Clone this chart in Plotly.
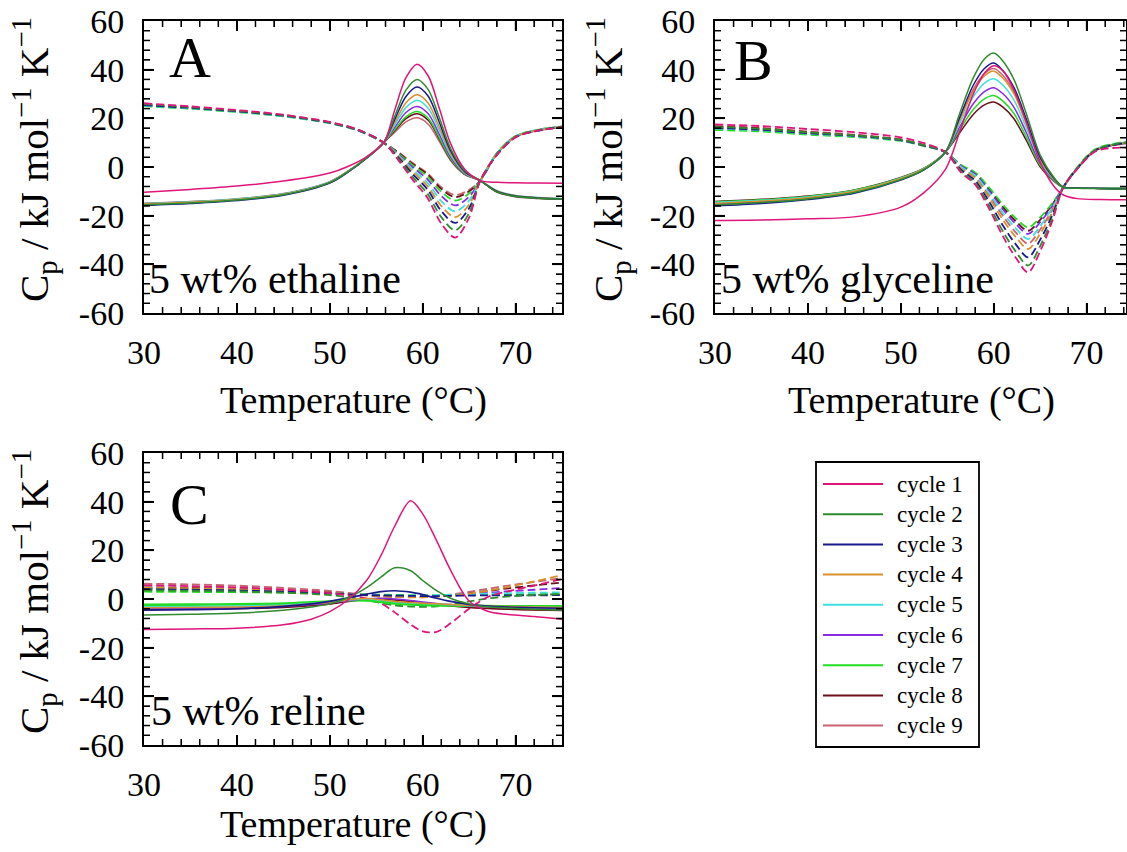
import plotly.graph_objects as go

# ---------------------------------------------------------------- data
cycle_names = ["cycle 1", "cycle 2", "cycle 3", "cycle 4", "cycle 5",
               "cycle 6", "cycle 7", "cycle 8", "cycle 9"]
cycle_colors = ["#e0157a", "#2e8b2e", "#1a1a8c", "#d8902a", "#40dede",
                "#8a2be2", "#22dd22", "#6b0f1a", "#c86470"]

y_tick_vals = [-60, -40, -20, 0, 20, 40, 60]
y_tick_text = ["-60", "-40", "-20", "0", "20", "40", "60"]
x_tick_vals = [30, 40, 50, 60, 70]
x_tick_text = ["30", "40", "50", "60", "70"]

# A: 5 wt% ethaline -- heating (solid) and cooling (dashed) scans
temp_a_heat = [30, 35, 40, 45, 50, 52, 54, 55.8, 57, 58.2, 59.4, 60.6, 61.8, 63, 64.5, 66.2, 68, 70, 72.5, 75]
cp_a_heat = [
    [-10.4, -9.2, -7.8, -5.8, -2.5, 0.3, 4.3, 10.0, 23.5, 36.7, 42.2, 37.4, 24.0, 9.7, -0.8, -5.6, -6.3, -6.5, -6.6, -6.7],
    [-15.5, -14.8, -13.6, -11.4, -6.4, -1.9, 3.8, 10.0, 20.9, 31.6, 36.0, 31.8, 20.2, 7.7, -1.4, -5.6, -10.2, -12.0, -12.8, -13.2],
    [-15.8, -15.0, -13.8, -11.6, -6.6, -2.0, 3.7, 10.0, 19.6, 29.0, 32.9, 29.1, 18.3, 6.7, -1.8, -5.6, -10.0, -11.9, -12.7, -13.1],
    [-15.2, -14.5, -13.4, -11.2, -6.3, -1.8, 3.8, 10.0, 18.3, 26.4, 29.7, 26.2, 16.3, 5.7, -2.1, -5.6, -9.8, -11.8, -12.6, -13.0],
    [-15.0, -14.3, -13.2, -11.0, -6.1, -1.7, 3.9, 10.0, 17.3, 24.4, 27.4, 24.1, 14.9, 5.0, -2.3, -5.6, -9.7, -11.7, -12.5, -12.9],
    [-15.4, -14.7, -13.5, -11.3, -6.4, -1.9, 3.8, 10.0, 16.3, 22.4, 24.9, 21.9, 13.3, 4.2, -2.6, -5.6, -9.9, -11.9, -12.7, -13.1],
    [-15.3, -14.6, -13.4, -11.2, -6.3, -1.8, 3.9, 10.0, 15.4, 20.6, 22.8, 20.0, 12.0, 3.5, -2.8, -5.6, -10.1, -12.0, -12.8, -13.2],
    [-15.1, -14.4, -13.3, -11.1, -6.2, -1.7, 3.9, 10.0, 15.0, 19.9, 21.9, 19.2, 11.5, 3.2, -2.9, -5.6, -10.3, -12.2, -12.9, -13.3],
    [-14.9, -14.2, -13.1, -10.9, -6.0, -1.6, 4.0, 10.0, 14.3, 18.5, 20.2, 17.6, 10.4, 2.7, -3.0, -5.6, -10.0, -11.8, -12.6, -13.0],
]
temp_a_cool = [30, 35, 40, 45, 50, 53, 55.8, 57.5, 59, 60.5, 62, 63.5, 65, 66.2, 68, 70, 72.5, 75]
cp_a_cool = [
    [26.2, 24.9, 23.4, 21.5, 18.5, 15.4, 10.0, 2.2, -5.6, -12.6, -23.2, -29.0, -20.8, -5.6, 5.0, 12.2, 15.0, 16.3],
    [25.8, 24.6, 23.1, 21.3, 18.3, 15.3, 10.0, 2.8, -4.4, -10.9, -20.6, -26.0, -18.9, -5.6, 5.3, 12.4, 15.1, 16.4],
    [25.4, 24.3, 22.9, 21.1, 18.2, 15.2, 10.0, 3.4, -3.2, -9.1, -18.1, -23.0, -16.9, -5.6, 5.0, 12.2, 15.0, 16.5],
    [25.6, 24.4, 23.0, 21.2, 18.3, 15.3, 10.0, 3.9, -2.2, -7.7, -16.0, -20.6, -15.4, -5.6, 5.4, 12.5, 15.2, 16.6],
    [25.2, 24.1, 22.7, 20.9, 18.1, 15.1, 10.0, 4.4, -1.3, -6.4, -14.0, -18.2, -13.8, -5.6, 5.6, 12.6, 15.3, 16.6],
    [25.5, 24.3, 22.9, 21.1, 18.2, 15.2, 10.0, 4.8, -0.3, -5.0, -11.9, -15.8, -12.2, -5.6, 5.5, 12.5, 15.2, 16.5],
    [25.0, 23.9, 22.6, 20.8, 18.0, 15.0, 10.0, 5.2, 0.5, -3.8, -10.2, -13.8, -10.9, -5.6, 5.8, 12.7, 15.4, 16.7],
    [25.3, 24.2, 22.8, 21.0, 18.1, 15.1, 10.0, 5.5, 1.0, -3.0, -9.0, -12.4, -10.0, -5.6, 5.6, 12.6, 15.3, 16.6],
    [25.7, 24.5, 23.0, 21.2, 18.3, 15.3, 10.0, 5.7, 1.4, -2.5, -8.3, -11.5, -9.4, -5.6, 5.4, 12.4, 15.1, 16.4],
]

# B: 5 wt% glyceline
temp_b_heat = [30, 35, 40, 45, 50, 52.5, 54.8, 56.3, 57.8, 59, 60, 61, 62.2, 63.5, 65, 66.5, 67.5, 69, 71.5, 74.3]
cp_b_heat = [
    [-22.0, -21.8, -21.3, -20.5, -16.5, -10.5, -1.0, 14.0, 30.0, 38.5, 41.6, 39.5, 31.5, 18.5, 2.0, -8.0, -11.5, -13.0, -13.4, -13.5],
    [-15.6, -14.6, -13.1, -10.5, -5.2, -1.1, 6.1, 21.6, 36.6, 44.4, 46.8, 43.5, 35.8, 22.0, 4.9, -4.4, -8.3, -8.7, -8.9, -9.1],
    [-16.0, -15.0, -13.4, -10.8, -5.4, -1.2, 6.1, 20.0, 33.6, 40.5, 42.7, 39.6, 32.5, 19.8, 3.9, -4.7, -8.3, -8.6, -8.8, -9.0],
    [-15.0, -14.0, -12.6, -10.0, -4.8, -0.8, 6.1, 18.8, 31.1, 37.4, 39.4, 36.5, 29.9, 17.9, 3.1, -5.0, -8.3, -8.6, -8.8, -9.0],
    [-14.6, -13.7, -12.3, -9.8, -4.6, -0.7, 6.1, 17.6, 28.8, 34.5, 36.3, 33.6, 27.4, 16.2, 2.4, -5.2, -8.3, -8.5, -8.7, -8.9],
    [-15.2, -14.2, -12.8, -10.2, -4.9, -0.9, 6.1, 16.2, 26.0, 31.0, 32.6, 30.1, 24.4, 14.2, 1.5, -5.4, -8.3, -8.6, -8.8, -9.0],
    [-14.4, -13.5, -12.1, -9.6, -4.5, -0.6, 6.1, 15.0, 23.6, 28.0, 29.4, 27.1, 21.9, 12.4, 0.7, -5.7, -8.3, -8.5, -8.7, -8.8],
    [-14.2, -13.3, -11.9, -9.4, -4.3, -0.5, 6.1, 13.9, 21.6, 25.5, 26.7, 24.6, 19.7, 11.0, 0.1, -5.9, -8.3, -8.5, -8.6, -8.7],
    [-15.3, -14.3, -12.9, -10.3, -5.0, -1.0, 6.1, 19.2, 31.9, 38.4, 40.5, 37.6, 30.7, 18.5, 3.4, -4.9, -8.3, -8.6, -8.8, -9.0],
]
temp_b_cool = [30, 35, 40, 45, 50, 52.5, 54.8, 56.5, 58, 59.5, 61, 62.4, 63.7, 65, 66.3, 67.5, 69, 71, 74.3]
cp_b_cool = [
    [17.5, 16.8, 15.6, 14.3, 12.2, 9.8, 6.1, -2.3, -7.2, -17.1, -28.5, -37.4, -43.3, -34.6, -22.3, -8.3, -0.8, 6.5, 8.0],
    [16.4, 15.7, 14.2, 13.0, 11.2, 8.9, 6.1, -1.8, -6.5, -15.8, -26.5, -34.9, -40.5, -32.5, -21.2, -8.3, -0.4, 7.1, 10.1],
    [16.0, 15.3, 13.9, 12.8, 11.0, 8.8, 6.1, -1.2, -5.6, -14.2, -24.1, -31.9, -37.1, -29.9, -19.8, -8.3, -0.5, 7.0, 10.0],
    [16.2, 15.5, 14.0, 12.9, 11.1, 8.8, 6.1, -0.7, -4.6, -12.6, -21.8, -28.9, -33.7, -27.4, -18.5, -8.3, -0.4, 7.1, 10.1],
    [15.8, 15.1, 13.7, 12.6, 10.9, 8.7, 6.1, 0.0, -3.5, -10.7, -18.9, -25.3, -29.6, -24.3, -16.8, -8.3, -0.3, 7.2, 10.2],
    [16.1, 15.4, 13.9, 12.8, 11.0, 8.8, 6.1, 0.4, -3.0, -9.7, -17.4, -23.5, -27.5, -22.7, -16.0, -8.3, -0.5, 7.0, 10.0],
    [15.2, 14.6, 13.3, 12.3, 10.7, 8.6, 6.1, 0.8, -2.2, -8.4, -15.5, -21.1, -24.8, -20.7, -14.9, -8.3, 0.0, 7.5, 10.4],
    [16.6, 15.8, 14.3, 13.1, 11.2, 8.9, 6.1, 0.6, -2.6, -9.1, -16.5, -22.3, -26.2, -21.7, -15.5, -8.3, -0.6, 6.9, 9.9],
    [16.9, 16.1, 14.6, 13.3, 11.4, 9.0, 6.1, -0.3, -4.1, -11.6, -20.2, -27.0, -31.5, -25.7, -17.6, -8.3, -0.7, 6.8, 9.6],
]

# C: 5 wt% reline
temp_c = [30, 35, 40, 45, 48, 50, 52, 54, 55.5, 57, 58.7, 60, 61.5, 63, 65, 67, 69, 72, 75]
cp_c_heat = [
    [-12.5, -12.3, -12.0, -10.6, -8.3, -5.2, -0.2, 7.8, 17.8, 30.0, 40.4, 35.0, 24.0, 11.9, -0.8, -5.0, -6.3, -7.2, -8.3],
    [-6.6, -6.3, -5.8, -4.6, -3.3, -2.0, 0.6, 4.8, 9.0, 12.8, 11.6, 7.6, 3.4, 0.3, -2.0, -3.2, -3.7, -4.2, -4.6],
    [-4.6, -4.4, -4.0, -3.0, -2.0, -1.0, 0.5, 2.0, 3.0, 3.4, 2.8, 1.8, 0.3, -1.0, -2.2, -2.9, -3.3, -3.6, -3.8],
    [-3.6, -3.5, -3.3, -2.8, -2.0, -1.3, -0.3, 0.2, -0.3, -1.0, -1.4, -1.7, -2.0, -2.3, -2.6, -2.9, -3.1, -3.3, -3.5],
    [-3.2, -3.1, -2.9, -2.5, -1.8, -1.2, -0.4, 0.0, -0.5, -1.2, -1.6, -1.8, -2.1, -2.4, -2.7, -3.0, -3.2, -3.4, -3.6],
    [-3.9, -3.8, -3.6, -3.0, -2.3, -1.6, -0.6, 0.1, 0.3, 0.0, -0.6, -1.2, -1.8, -2.3, -2.8, -3.2, -3.4, -3.7, -3.9],
    [-2.4, -2.3, -2.2, -1.9, -1.4, -1.0, -0.5, -0.6, -1.2, -1.8, -2.2, -2.4, -2.6, -2.7, -2.8, -2.9, -3.0, -3.0, -3.0],
    [-4.3, -4.2, -4.0, -3.5, -2.8, -2.1, -1.0, -0.2, 0.0, -0.4, -1.0, -1.6, -2.3, -2.9, -3.5, -3.9, -4.2, -4.5, -4.7],
    [-4.0, -3.9, -3.7, -3.2, -2.5, -1.8, -0.8, 0.0, 0.2, -0.2, -0.9, -1.5, -2.2, -2.8, -3.4, -3.8, -4.1, -4.4, -4.6],
]
cp_c_cool = [
    [5.7, 5.3, 4.8, 3.9, 3.1, 2.4, 1.5, 0.2, -1.8, -5.5, -10.5, -13.3, -13.5, -10.0, -4.0, 0.8, 3.0, 5.5, 8.2],
    [3.6, 3.4, 3.1, 2.6, 2.1, 1.6, 0.8, -0.5, -1.6, -2.6, -3.1, -3.2, -3.0, -2.3, -1.0, 0.2, 1.0, 1.6, 2.0],
    [4.0, 3.8, 3.5, 3.0, 2.6, 2.3, 1.9, 1.6, 1.5, 1.4, 1.3, 1.2, 1.2, 1.3, 1.4, 1.5, 1.5, 1.5, 1.6],
    [4.6, 4.4, 4.1, 3.5, 3.0, 2.6, 2.0, 1.4, 1.0, 0.8, 0.7, 0.7, 0.9, 1.3, 2.2, 3.4, 4.8, 7.2, 9.8],
    [4.2, 4.0, 3.7, 3.2, 2.8, 2.4, 2.0, 1.7, 1.5, 1.4, 1.4, 1.5, 1.6, 1.8, 2.0, 2.2, 2.4, 2.6, 2.7],
    [4.4, 4.2, 3.9, 3.4, 2.9, 2.5, 2.0, 1.6, 1.3, 1.1, 1.0, 1.0, 1.1, 1.4, 1.9, 2.5, 3.1, 3.8, 4.5],
    [3.0, 2.9, 2.8, 2.6, 2.4, 2.3, 2.1, 1.9, 1.8, 1.7, 1.6, 1.6, 1.6, 1.6, 1.7, 1.8, 1.9, 2.0, 2.1],
    [4.8, 4.6, 4.2, 3.6, 3.1, 2.7, 2.1, 1.6, 1.2, 1.0, 0.9, 0.9, 1.1, 1.5, 2.3, 3.3, 4.3, 5.6, 6.8],
    [6.3, 6.0, 5.5, 4.6, 3.9, 3.3, 2.5, 1.7, 1.2, 0.9, 0.8, 0.9, 1.2, 1.8, 2.9, 4.2, 5.4, 7.0, 8.6],
]

# ---------------------------------------------------------------- figure
W, H = 1127, 852
SERIF = "Liberation Serif"


def px(x):
    return x / W


def py(y):
    return 1 - y / H


fig = go.Figure()

panels = [
    ("x", "y", temp_a_heat, cp_a_heat, temp_a_cool, cp_a_cool, [1.5] * 9),
    ("x2", "y2", temp_b_heat, cp_b_heat, temp_b_cool, cp_b_cool, [1.5] * 9),
    ("x3", "y3", temp_c, cp_c_heat, temp_c, cp_c_cool,
     [1.5, 1.5, 1.7, 1.5, 1.5, 1.5, 2.6, 1.5, 1.5]),
]

for xa, ya, th, heat, tc, cool, widths in panels:
    order = list(range(8, -1, -1))
    for i in order:
        fig.add_trace(go.Scatter(
            x=tc, y=cool[i], xaxis=xa, yaxis=ya, mode="lines",
            line=dict(color=cycle_colors[i], width=1.8, dash="8px,4px",
                      shape="spline", smoothing=0.9),
            name=cycle_names[i], showlegend=False, hoverinfo="skip"))
    for i in order:
        fig.add_trace(go.Scatter(
            x=th, y=heat[i], xaxis=xa, yaxis=ya, mode="lines",
            line=dict(color=cycle_colors[i], width=widths[i],
                      shape="spline", smoothing=0.9),
            name=cycle_names[i], showlegend=False, hoverinfo="skip"))


def frame_axis(rng, domain, anchor, major_vals, major_text, minor_dtick, standoff):
    return dict(
        range=rng, domain=domain, anchor=anchor, automargin=False,
        showline=True, linecolor="black", linewidth=2, mirror="ticks",
        ticks="inside", ticklen=10, tickwidth=1.6, tickcolor="black",
        tickmode="array", tickvals=major_vals, ticktext=major_text,
        minor=dict(ticks="inside", ticklen=6, tickwidth=1.4,
                   tickcolor="black", dtick=minor_dtick, showgrid=False),
        showgrid=False, zeroline=False, fixedrange=True,
        tickfont=dict(family=SERIF, size=34, color="black"),
        ticklabelstandoff=standoff,
    )


xA = [px(144), px(562)]
xB = [px(715), px(1126)]
yAB = [py(313), py(21)]
yC = [py(745), py(453)]
x_range_a = [30, 75]
x_range_b = [30, 74.24]
y_range = [-60, 60]

fig.update_layout(
    template="none",
    width=W, height=H,
    margin=dict(l=0, r=0, t=0, b=0, autoexpand=False),
    paper_bgcolor="white", plot_bgcolor="white",
    showlegend=False,
    xaxis=frame_axis(x_range_a, xA, "y", x_tick_vals, x_tick_text, 2, 8),
    yaxis=frame_axis(y_range, yAB, "x", y_tick_vals, y_tick_text, 4, 11),
    xaxis2=frame_axis(x_range_b, xB, "y2", x_tick_vals, x_tick_text, 2, 8),
    yaxis2=frame_axis(y_range, yAB, "x2", y_tick_vals, y_tick_text, 4, 11),
    xaxis3=frame_axis(x_range_a, xA, "y3", x_tick_vals, x_tick_text, 2, 8),
    yaxis3=frame_axis(y_range, yC, "x3", y_tick_vals, y_tick_text, 4, 11),
)

# ---------------------------------------------------------------- frame ticks on all four sides
shapes = []
tick_line = dict(color="black", width=1.5)


def frame_ticks(xref, yref, xr, yr):
    xs = [(v, 10 if v % 10 == 0 else 6) for v in range(30, 76, 2)]
    ys = [(v, 10 if v % 20 == 0 else 6) for v in range(-60, 61, 4)]
    for v, ln in xs:
        if xr[0] < v < xr[1]:
            for anchor, sign in [(0, 1), (1, -1)]:
                shapes.append(dict(type="line", xref=xref, yref=yref + " domain",
                                   x0=v, x1=v, ysizemode="pixel", yanchor=anchor,
                                   y0=0, y1=sign * ln, line=tick_line, layer="above"))
    for v, ln in ys:
        if yr[0] < v < yr[1]:
            for anchor, sign in [(0, 1), (1, -1)]:
                shapes.append(dict(type="line", xref=xref + " domain", yref=yref,
                                   y0=v, y1=v, xsizemode="pixel", xanchor=anchor,
                                   x0=0, x1=sign * ln, line=tick_line, layer="above"))


frame_ticks("x", "y", x_range_a, y_range)
frame_ticks("x2", "y2", x_range_b, y_range)
frame_ticks("x3", "y3", x_range_a, y_range)

# ---------------------------------------------------------------- text
y_title = "C<sub>p</sub> / kJ mol<sup>−1</sup> K<sup>−1</sup>"
x_title = "Temperature (°C)"
notes = []


def note(text, x, y, size, xanchor="center", yanchor="middle", angle=0):
    notes.append(dict(text=text, x=px(x), y=py(y), xref="paper", yref="paper",
                      xanchor=xanchor, yanchor=yanchor, textangle=angle,
                      showarrow=False,
                      font=dict(family=SERIF, size=size, color="black")))


note("A", 190, 58, 58)
note("B", 754, 60, 58)
note("C", 189, 505, 58)
note("5 wt% ethaline", 147, 279, 42, xanchor="left")
note("5 wt% glyceline", 719, 279, 42, xanchor="left")
note("5 wt% reline", 149, 711, 42, xanchor="left")
for cx, cy in [(353, 400), (921, 400), (353, 824)]:
    note(x_title, cx, cy, 38)
for cx, cy in [(34, 160), (608, 160), (34, 592)]:
    note(y_title, cx, cy, 41, angle=-90)

# key for the nine cycles
shapes.append(dict(type="rect", xref="paper", yref="paper",
                   x0=px(816), x1=px(979), y0=py(747), y1=py(462),
                   line=dict(color="black", width=1.8), fillcolor="white", layer="above"))
for i, name in enumerate(cycle_names):
    ry = 484 + i * 30.2
    shapes.append(dict(type="line", xref="paper", yref="paper",
                       x0=px(823), x1=px(883), y0=py(ry), y1=py(ry),
                       line=dict(color=cycle_colors[i], width=2), layer="above"))
    note(name, 895, ry, 23, xanchor="left")

fig.update_layout(annotations=notes, shapes=shapes)

fig.write_html("out.html")
